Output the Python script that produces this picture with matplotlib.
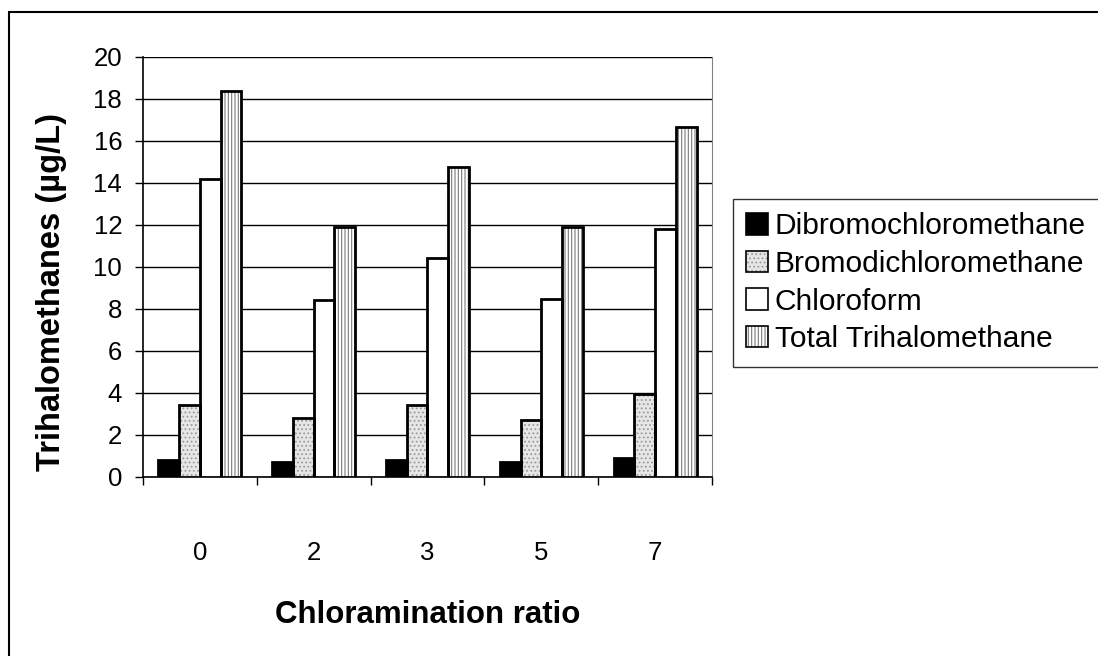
import matplotlib.pyplot as plt
import matplotlib.patches as mpatches
from matplotlib.legend_handler import HandlerTuple
import numpy as np

plt.rcParams["font.family"] = ["Liberation Sans", "DejaVu Sans"]
plt.rcParams["hatch.linewidth"] = 0.8

ratios = ["0", "2", "3", "5", "7"]
series = ["Dibromochloromethane", "Bromodichloromethane", "Chloroform", "Total Trihalomethane"]
dibromo = [0.8, 0.7, 0.8, 0.7, 0.9]
bromodi = [3.45, 2.8, 3.45, 2.7, 3.95]
chloroform = [14.2, 8.45, 10.45, 8.5, 11.8]
total = [18.4, 11.9, 14.75, 11.9, 16.65]

values = [dibromo, bromodi, chloroform, total]
faces = ["black", "#e6e6e6", "white", "white"]
hatches = [None, "....", None, "|||||"]
hatch_cols = ["black", "#9a9a9a", "white", "#7a7a7a"]

fig = plt.figure(figsize=(10.98, 6.56), dpi=100)
ax = fig.add_axes([143 / 1098, 179 / 656, 569 / 1098, 420 / 656])

x = np.arange(len(ratios))
w = 0.182
handles = []
for i, (vals, fc, h, hc) in enumerate(zip(values, faces, hatches, hatch_cols)):
    pos = x + (i - 1.5) * w
    # fill + hatch first, then the black outline on top
    ax.bar(pos, vals, w, color=fc, hatch=h, edgecolor=hc, linewidth=0, zorder=3)
    ax.bar(pos, vals, w, fill=False, edgecolor="black", linewidth=2, zorder=4)
    p1 = mpatches.Patch(facecolor=fc, hatch=h, edgecolor=hc, linewidth=0)
    p2 = mpatches.Patch(fill=False, edgecolor="black", linewidth=1.2)
    handles.append((p1, p2))

ax.set_xlim(-0.5, len(ratios) - 0.5)
ax.set_ylim(0, 20)
ax.set_yticks(np.arange(0, 21, 2))
ax.yaxis.grid(True, color="black", linewidth=1)
ax.set_axisbelow(True)

ax.set_xticks(x)
ax.set_xticklabels(ratios)
ax.set_xticks(np.arange(-0.5, len(ratios)), minor=True)
ax.tick_params(axis="x", which="major", length=0, pad=46, labelsize=18.5)
ax.tick_params(axis="x", which="minor", length=6, direction="out", width=1)
ax.tick_params(axis="y", length=6, direction="out", width=1, pad=9, labelsize=18.5)

ax.spines["top"].set_visible(False)
ax.spines["right"].set_color("#808080")
for s in ("left", "bottom"):
    ax.spines[s].set_linewidth(1.2)

ax.set_xlabel("Chloramination ratio", fontsize=22.5, fontweight="bold", labelpad=25)
ax.set_ylabel("Trihalomethanes (µg/L)", fontsize=23.5, fontweight="bold")
ax.yaxis.set_label_coords(-0.134, 0.44)

leg = fig.legend(handles, series, handler_map={tuple: HandlerTuple(ndivide=1)},
                 loc="upper left", bbox_to_anchor=(733 / 1098, 1 - 199 / 656),
                 fontsize=21.5, frameon=True, fancybox=False, edgecolor="black",
                 handlelength=0.72, handleheight=0.72, handletextpad=0.22,
                 labelspacing=0.32, borderpad=0.45, borderaxespad=0)
leg.get_frame().set_linewidth(1)

# outer chart border
fig.add_artist(mpatches.Rectangle((9 / 1098, -0.1), 1.2, 1 - 12 / 656 + 0.1,
                                  transform=fig.transFigure, fill=False,
                                  edgecolor="black", linewidth=1.5))

fig.savefig("out.png", dpi=100)
